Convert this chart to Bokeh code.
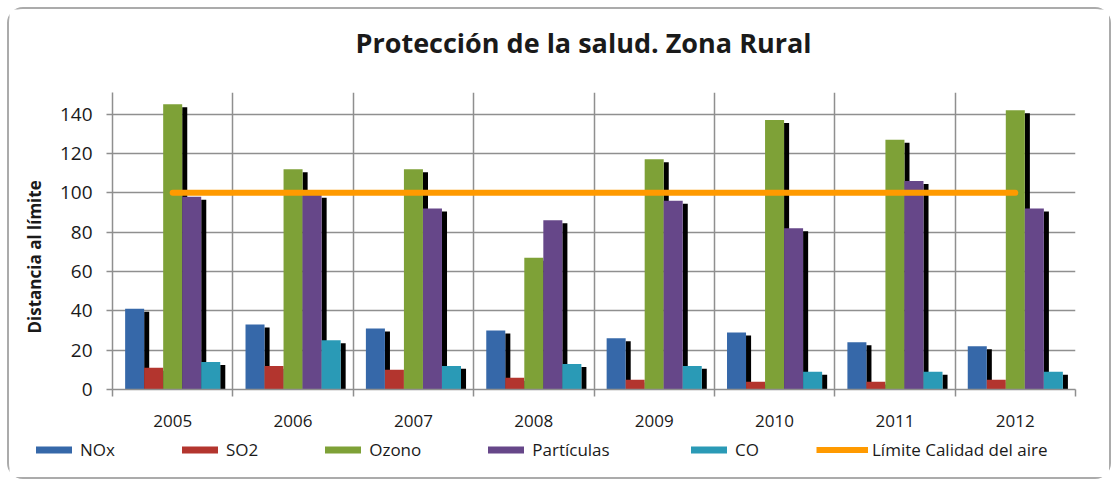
import numpy as np
from bokeh.plotting import figure
from bokeh.models import Range1d, FixedTicker, Legend, LegendItem, Title, Column, Label
from bokeh.embed import file_html
from bokeh.resources import INLINE

# ---- data ----
years = ["2005", "2006", "2007", "2008", "2009", "2010", "2011", "2012"]
nox = [41, 33, 31, 30, 26, 29, 24, 22]
so2 = [11, 12, 10, 6, 5, 4, 4, 5]
ozono = [145, 112, 112, 67, 117, 137, 127, 142]
particulas = [98, 99, 92, 86, 96, 82, 106, 92]
co = [14, 25, 12, 13, 12, 9, 9, 9]
limite = 100
series_names = ["NOx", "SO2", "Ozono", "Partículas", "CO"]
limit_name = "Límite Calidad del aire"
y_ticks = [0, 20, 40, 60, 80, 100, 120, 140]
title_text = "Protección de la salud. Zona Rural"
y_title = "Distancia al límite"

# ---- style ----
colors = ["#3668a9", "#b3352e", "#7ea137", "#664789", "#2a9ab6"]
orange = "#ff9a00"
grid_col = "#8f8f8f"
text_col = "#1a1a1a"
FONT = "Open Sans"
W = 1100

n = len(years)
centers = np.arange(n) + 0.5
bw = 0.158      # bar width (category units)
sw = 0.042      # shadow width
sdrop = 1.5     # shadow drop (data units)

# ---- header strip with the title ----
hd = figure(width=W, height=83, x_range=Range1d(0, 1), y_range=Range1d(0, 1),
            output_backend="svg", toolbar_location=None, x_axis_type=None, y_axis_type=None,
            min_border=0)
hd.frame_align = False
hd.outline_line_color = None
hd.grid.visible = False
hd.background_fill_color = "white"
hd.border_fill_color = "white"
hd.add_layout(Label(x=574, y=50, x_units="screen", y_units="screen", text=title_text,
                    text_align="center", text_baseline="middle", text_font=FONT,
                    text_font_size="27px", text_font_style="bold", text_color=text_col))

# ---- main plot ----
p = figure(width=W, height=346, x_range=Range1d(0, n), y_range=Range1d(0, 151),
           output_backend="svg", toolbar_location=None,
           min_border_left=103, min_border_right=34, min_border_top=0, min_border_bottom=49)
p.frame_align = False
p.outline_line_color = None
p.background_fill_color = "white"
p.border_fill_color = "white"

# grids
p.xgrid.ticker = FixedTicker(ticks=list(range(n + 1)))
p.ygrid.ticker = FixedTicker(ticks=y_ticks)
for g in (p.xgrid, p.ygrid):
    g.grid_line_color = grid_col
    g.grid_line_width = 1.5

# x axis
xa = p.xaxis[0]
xa.ticker = FixedTicker(ticks=list(centers), minor_ticks=list(range(n + 1)))
xa.major_label_overrides = {float(c): y for c, y in zip(centers, years)}
xa.major_tick_out = 0
xa.major_tick_in = 0
xa.minor_tick_out = 7
xa.minor_tick_in = 0
xa.minor_tick_line_color = grid_col
xa.minor_tick_line_width = 1.5
xa.axis_line_color = grid_col
xa.axis_line_width = 1.5
xa.major_label_standoff = 18
xa.major_label_text_font = FONT
xa.major_label_text_font_size = "17px"
xa.major_label_text_color = text_col

# y axis
ya = p.yaxis[0]
ya.ticker = FixedTicker(ticks=y_ticks)
ya.major_tick_out = 6
ya.major_tick_in = 0
ya.minor_tick_out = 0
ya.minor_tick_in = 0
ya.major_tick_line_color = grid_col
ya.major_tick_line_width = 1.5
ya.axis_line_color = grid_col
ya.axis_line_width = 1.5
ya.major_label_standoff = 14
ya.major_label_text_font = FONT
ya.major_label_text_font_size = "19px"
ya.major_label_text_color = text_col

# y-axis title (as a left-side title so it can be shifted)
yt = Title(text=y_title, align="left", offset=56, standoff=22,
           text_font=FONT, text_font_size="17px", text_font_style="bold", text_color=text_col)
p.add_layout(yt, "left")

# bars with shadows
series_values = [nox, so2, ozono, particulas, co]
for k, (name, vals, col) in enumerate(zip(series_names, series_values, colors)):
    xs = centers + (k - 2) * bw
    sh_top = [v - sdrop for v in vals]
    p.vbar(x=xs + bw / 2 + sw / 2, top=sh_top, bottom=0, width=sw,
           fill_color="black", line_color=None)
    p.vbar(x=xs, top=vals, bottom=0, width=bw, fill_color=col, line_color=None)

p.line(x=[centers[0], centers[-1]], y=[limite, limite], line_color=orange,
       line_width=6, line_cap="round")

# ---- legend strip (separate figure so it can sit left of the plot frame) ----
lg = figure(width=W, height=39, x_range=Range1d(0, 1), y_range=Range1d(0, 1),
            output_backend="svg", toolbar_location=None, x_axis_type=None, y_axis_type=None,
            min_border=0)
lg.frame_align = False
lg.outline_line_color = None
lg.grid.visible = False
lg.border_fill_color = "white"
lg.background_fill_color = "white"
# zero-size proxy glyphs that only serve as legend swatches
leg_renderers = [lg.vbar(x=[0.5], top=[0], bottom=[0], width=0.0, fill_color=c, line_color=None)
                 for c in colors]
leg_renderers.append(lg.line(x=[0.5, 0.5], y=[0.5, 0.5], line_color=orange, line_width=6))
all_items = [LegendItem(label=lab, renderers=[r])
             for lab, r in zip(series_names + [limit_name], leg_renderers)]

groups = [(all_items[0:4], 22, 45), (all_items[4:5], 677, 45), (all_items[5:6], 807, 52)]
for its, lx, gw in groups:
    leg = Legend(items=its, location=(lx, 16), orientation="horizontal",
                 padding=0, margin=0, spacing=62, border_line_color=None,
                 background_fill_alpha=0, glyph_width=gw, glyph_height=9, label_standoff=4,
                 label_height=20, label_text_font=FONT, label_text_font_size="17px",
                 label_text_color=text_col)
    lg.add_layout(leg)

layout = Column(children=[hd, p, lg], spacing=0,
                styles={"border": "2px solid #ababab", "border-radius": "16px",
                        "margin": "7px 0 0 7px", "background-color": "white"})

open("out.html", "w").write(file_html(layout, INLINE))
